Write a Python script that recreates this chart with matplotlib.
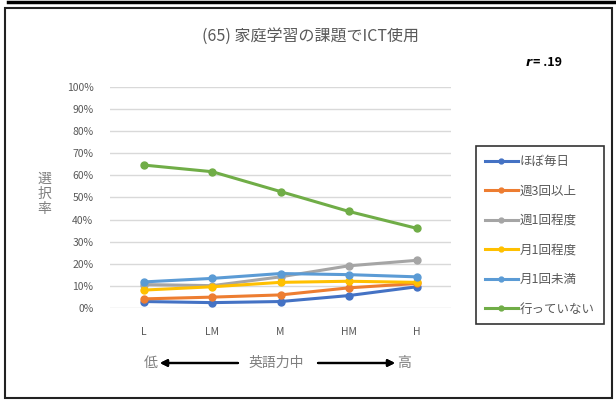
import matplotlib
matplotlib.use('Agg')
import matplotlib.pyplot as plt
from matplotlib.lines import Line2D
from matplotlib.patches import Rectangle
from matplotlib.ticker import PercentFormatter

plt.rcParams['font.family'] = ['Noto Sans CJK JP', 'DejaVu Sans']

categories = ['L', 'LM', 'M', 'HM', 'H']
series_names = ['ほぼ毎日', '週3回以上', '週1回程度', '月1回程度', '月1回未満', '行っていない']
hobo_mainichi = [0.028, 0.023, 0.028, 0.055, 0.095]
shu3 = [0.040, 0.048, 0.058, 0.090, 0.110]
shu1 = [0.105, 0.100, 0.140, 0.190, 0.215]
tsuki1 = [0.080, 0.095, 0.115, 0.120, 0.115]
tsuki1_miman = [0.117, 0.133, 0.155, 0.150, 0.140]
nai = [0.647, 0.617, 0.527, 0.437, 0.360]
values = [hobo_mainichi, shu3, shu1, tsuki1, tsuki1_miman, nai]
colors = ['#4472C4', '#ED7D31', '#A5A5A5', '#FFC000', '#5B9BD5', '#70AD47']

fig = plt.figure(figsize=(6.16, 4.0), dpi=100)
ax = fig.add_axes([110/616, 1-307.7/400, 341/616, 220.4/400])

x = range(len(categories))
for name, vals, c in zip(series_names, values, colors):
    ax.plot(x, vals, color=c, lw=2.2, marker='o', ms=5, label=name, clip_on=False, zorder=3)

ax.set_xlim(-0.5, 4.5)
ax.set_ylim(0, 1)
ax.set_yticks([i / 10 for i in range(11)])
ax.yaxis.set_major_formatter(PercentFormatter(1.0, decimals=0))
ax.set_xticks(list(x))
ax.set_xticklabels(categories)
ax.tick_params(length=0, labelsize=7.5, colors='#595959', pad=14)
ax.tick_params(axis='y', pad=12)
ax.grid(axis='y', color='#D9D9D9', lw=1)
ax.set_axisbelow(True)
for s in ax.spines.values():
    s.set_visible(False)

fig.text(311/616, 1-36/400, '(65) 家庭学習の課題でICT使用', ha='center', va='center',
         fontsize=11.5, color='#595959')
fig.text(526/616, 1-63/400, 'r', ha='left', va='center', fontsize=9,
         style='italic', weight='bold', color='black', family='DejaVu Sans')
fig.text(533/616, 1-63/400, '= .19', ha='left', va='center', fontsize=9,
         weight='bold', color='black')
fig.text(44/616, 1-194/400, '選\n択\n率', ha='center', va='center', fontsize=10,
         color='#7F7F7F', linespacing=1.12)

# axe du bas : faible -> fort
fig.text(151/616, 1-363/400, '低', ha='center', va='center', fontsize=10, color='#7F7F7F')
fig.text(276/616, 1-363/400, '英語力中', ha='center', va='center', fontsize=10, color='#7F7F7F')
fig.text(404/616, 1-363/400, '高', ha='center', va='center', fontsize=10, color='#7F7F7F')
arrow = dict(arrowstyle='-|>', color='black', lw=1.6, mutation_scale=10, shrinkA=0, shrinkB=0)
fig.add_artist(plt.annotate('', xy=(160/616, 1-363/400), xytext=(238/616, 1-363/400),
                            xycoords='figure fraction', arrowprops=arrow))
fig.add_artist(plt.annotate('', xy=(395/616, 1-363/400), xytext=(318/616, 1-363/400),
                            xycoords='figure fraction', arrowprops=arrow))

leg = fig.legend(loc='upper left', bbox_to_anchor=(470/616, 1-140/400), fontsize=9,
                 frameon=True, fancybox=False, edgecolor='black', labelspacing=1.32,
                 handlelength=2.6, handletextpad=0.2, borderpad=0.7, labelcolor='#595959',
                 markerscale=0.7)
leg.get_frame().set_linewidth(1.2)

# cadre
fig.add_artist(Rectangle((5/616, 2/400), 607/616, 390/400, transform=fig.transFigure,
                         fill=False, edgecolor='#222222', lw=1.5))
fig.add_artist(Line2D([8/616, 1], [1-1.5/400, 1-1.5/400], transform=fig.transFigure,
                      color='black', lw=2.5))

fig.savefig('out.png', dpi=100)
